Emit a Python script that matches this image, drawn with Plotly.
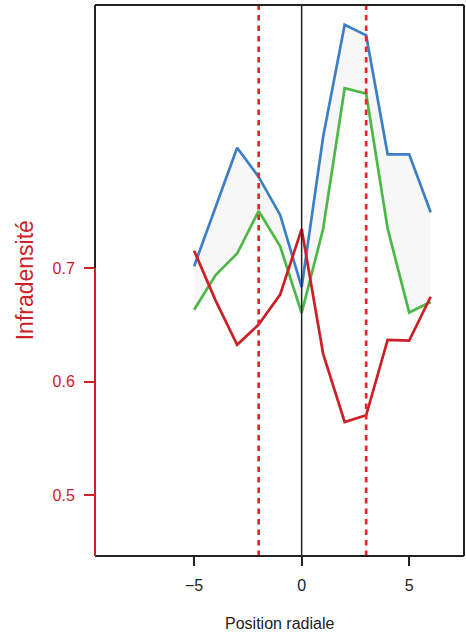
import plotly.graph_objects as go

# Data
positions = [-5, -4, -3, -2, -1, 0, 1, 2, 3, 4, 5, 6]
infradensite = [0.7156, 0.6716, 0.6326, 0.6505, 0.6769, 0.7347, 0.6247, 0.5646, 0.5705, 0.637, 0.6364, 0.675]
borne_haute = [0.526, 0.632, 0.741, 0.688, 0.619, 0.488, 0.761, 0.964, 0.945, 0.729, 0.729, 0.624]
borne_basse = [0.447, 0.510, 0.549, 0.626, 0.562, 0.441, 0.594, 0.849, 0.839, 0.594, 0.442, 0.461]
reperes = [-2, 3]
x_ticks = [-5, 0, 5]
y_ticks = [0.5, 0.6, 0.7]
y_ticktext = ["0.5", "0.6", "0.7"]

RED_AX = "#cf2027"
RED_LINE = "#cc1f26"
RED_DOT = "#e8262b"
BLUE = "#3d7fc3"
GREEN = "#4cb848"
FRAME = "#222222"
FONT = "Liberation Sans, Arial, sans-serif"

x_range = [-9.61, 7.55]
y2_range = [0.4464, 0.9323]

fig = go.Figure()

fig.add_trace(go.Scatter(x=positions, y=borne_basse, mode="lines", name="borne basse",
                         line=dict(color=GREEN, width=2.7), yaxis="y", showlegend=False))
fig.add_trace(go.Scatter(x=positions, y=borne_haute, mode="lines", name="borne haute",
                         line=dict(color=BLUE, width=2.7), fill="tonexty", fillcolor="#f7f7f7",
                         yaxis="y", showlegend=False))
fig.add_trace(go.Scatter(x=positions, y=infradensite, mode="lines", name="Infradensité",
                         line=dict(color=RED_LINE, width=2.7), yaxis="y2", showlegend=False))

shapes = []
# vertical marker lines
for r in reperes:
    shapes.append(dict(type="line", xref="x", yref="paper", x0=r, x1=r, y0=0, y1=1,
                       line=dict(color=RED_DOT, width=2.7, dash="5.5px,5px"), layer="above"))
shapes.append(dict(type="line", xref="x", yref="paper", x0=0, x1=0, y0=0, y1=1,
                   line=dict(color=FRAME, width=1.5), layer="above"))
# frame
shapes.append(dict(type="line", xref="paper", yref="paper", x0=0, x1=1, y0=1, y1=1,
                   line=dict(color=FRAME, width=2), layer="above"))
shapes.append(dict(type="line", xref="paper", yref="paper", x0=1, x1=1, y0=0, y1=1,
                   line=dict(color=FRAME, width=2), layer="above"))
shapes.append(dict(type="line", xref="paper", yref="paper", x0=0, x1=1, y0=0, y1=0,
                   line=dict(color=FRAME, width=2), layer="above"))
shapes.append(dict(type="line", xref="paper", yref="y2", x0=0, x1=0, y0=0.7, y1=y2_range[1],
                   line=dict(color=FRAME, width=2), layer="above"))
shapes.append(dict(type="line", xref="paper", yref="y2", x0=0, x1=0, y0=y2_range[0], y1=0.7,
                   line=dict(color=RED_AX, width=2), layer="above"))

fig.update_layout(
    width=466, height=637,
    margin=dict(l=95, r=2, t=5, b=81),
    paper_bgcolor="white", plot_bgcolor="white",
    font=dict(family=FONT, size=16, color="#222"),
    shapes=shapes,
    xaxis=dict(range=x_range, tickvals=x_ticks, ticks="outside", ticklen=9, tickwidth=1.5,
               tickcolor=FRAME, showgrid=False, zeroline=False, showline=False,
               ticklabelstandoff=6, tickfont=dict(size=16, color="#222")),
    yaxis=dict(range=[0, 1], visible=False, showgrid=False, zeroline=False),
    yaxis2=dict(range=y2_range, overlaying="y", side="left", anchor="x",
                tickvals=y_ticks, ticktext=y_ticktext, ticks="outside", ticklen=10,
                tickwidth=1.5, tickcolor=RED_AX, showgrid=False, zeroline=False, showline=False,
                ticklabelstandoff=6, tickfont=dict(size=16, color=RED_AX)),
    annotations=[
        dict(text="Infradensité", xref="paper", yref="paper", x=(25 - 95) / 369.6, y=0.5006,
             xanchor="center", yanchor="middle", textangle=-90, showarrow=False,
             font=dict(size=23, color=RED_AX, family=FONT)),
        dict(text="Position radiale", xref="paper", yref="paper", x=0.5, y=-0.1217,
             xanchor="center", yanchor="middle", showarrow=False,
             font=dict(size=16, color="#222", family=FONT)),
    ],
)

fig.write_html("out.html", config={"displayModeBar": False},
               post_script="document.body.style.margin='0';document.body.style.overflow='hidden';")
